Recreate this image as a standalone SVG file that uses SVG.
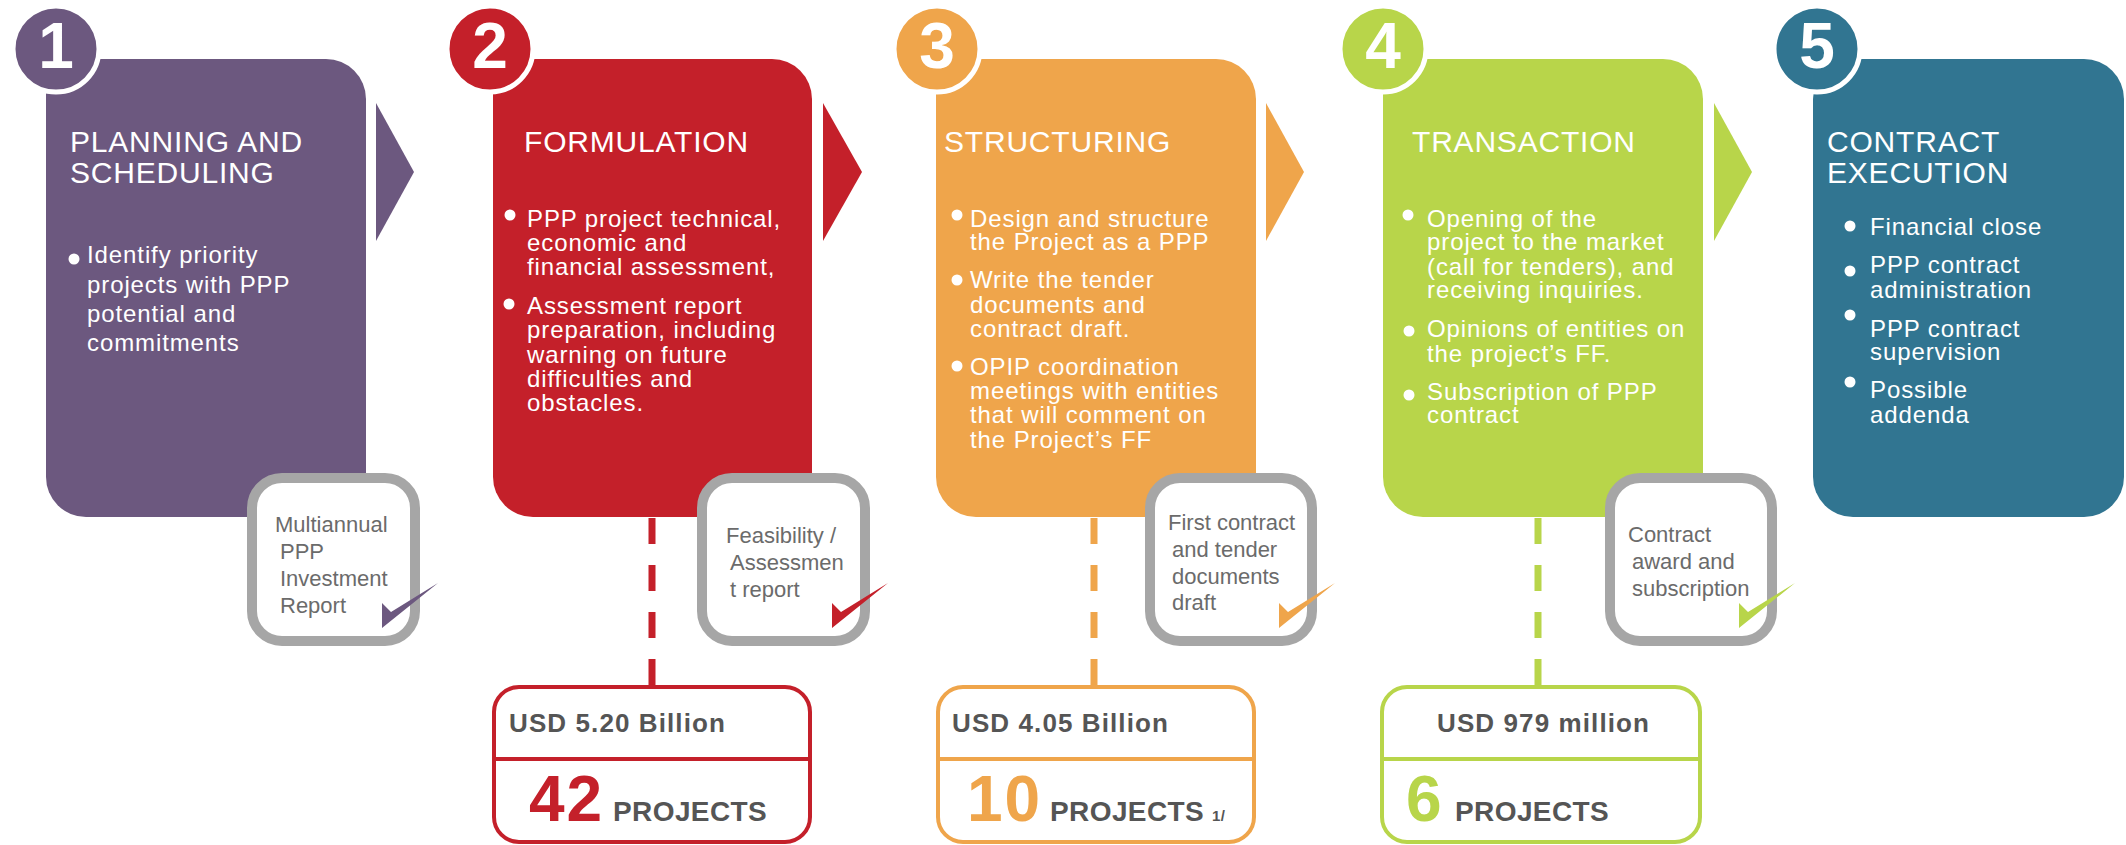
<svg xmlns="http://www.w3.org/2000/svg" width="2126" height="845" viewBox="0 0 2126 845">
<style>
.t{font-family:"Liberation Sans",Arial,sans-serif;fill:#fff}
.title{font-size:30px;letter-spacing:0.8px}
.bul{font-size:24px;letter-spacing:0.9px}
.num{font-family:"Liberation Sans",Arial,sans-serif;font-weight:bold;font-size:64px;fill:#fff;text-anchor:middle}
.circ{stroke:#fff;stroke-width:5}
.dot{fill:#fff}
.gbox{fill:#fff;stroke:#a6a6a6;stroke-width:10}
.gt{font-family:"Liberation Sans",Arial,sans-serif;font-size:22px;fill:#6b6b6b}
.ubox{fill:#fff;stroke-width:4}
.usd{font-family:"Liberation Sans",Arial,sans-serif;font-weight:bold;font-size:26px;letter-spacing:1.1px;fill:#555}
.big{font-family:"Liberation Sans",Arial,sans-serif;font-weight:bold;font-size:64px;letter-spacing:2px}
.proj{font-family:"Liberation Sans",Arial,sans-serif;font-weight:bold;font-size:28px;letter-spacing:0.4px;fill:#555}
.dash{stroke-width:7;stroke-dasharray:26 21;fill:none}
</style>

<g id="connectors">
  <polygon points="376,103 414,172 376,241" fill="#6c587f"/>
  <polygon points="823,103 862,172 823,241" fill="#c4202a"/>
  <polygon points="1266,103 1304,172 1266,241" fill="#efa54b"/>
  <polygon points="1714,103 1752,172 1714,241" fill="#b8d54a"/>
  <line x1="652" y1="518" x2="652" y2="685" class="dash" stroke="#c4202a"/>
  <line x1="1094" y1="518" x2="1094" y2="685" class="dash" stroke="#efa54b"/>
  <line x1="1538" y1="518" x2="1538" y2="685" class="dash" stroke="#b8d54a"/>
</g>

<g id="stage1">
  <path d="M46,59 H326 A40,40 0 0 1 366,99 V517 H86 A40,40 0 0 1 46,477 Z" fill="#6c587f"/>
  <circle cx="56" cy="49" r="43" fill="#6c587f" class="circ"/>
  <text x="56" y="68" class="num">1</text>
  <text class="t title" x="70" y="152">PLANNING AND</text>
  <text class="t title" x="70" y="183">SCHEDULING</text>
  <circle cx="74" cy="259" r="5.5" class="dot"/>
  <text class="t bul" x="87" y="263">Identify priority</text>
  <text class="t bul" x="87" y="293">projects with PPP</text>
  <text class="t bul" x="87" y="322">potential and</text>
  <text class="t bul" x="87" y="351">commitments</text>
</g>

<g id="stage2">
  <path d="M493,59 H772 A40,40 0 0 1 812,99 V517 H533 A40,40 0 0 1 493,477 Z" fill="#c4202a"/>
  <circle cx="490" cy="49" r="43" fill="#c4202a" class="circ"/>
  <text x="490" y="68" class="num">2</text>
  <text class="t title" x="524" y="152">FORMULATION</text>
  <circle cx="510" cy="215" r="5.5" class="dot"/>
  <text class="t bul" x="527" y="227">PPP project technical,</text>
  <text class="t bul" x="527" y="251">economic and</text>
  <text class="t bul" x="527" y="275">financial  assessment,</text>
  <circle cx="509" cy="304" r="5.5" class="dot"/>
  <text class="t bul" x="527" y="314">Assessment report</text>
  <text class="t bul" x="527" y="338">preparation, including</text>
  <text class="t bul" x="527" y="363">warning on future</text>
  <text class="t bul" x="527" y="387">difficulties and</text>
  <text class="t bul" x="527" y="411">obstacles.</text>
</g>

<g id="stage3">
  <path d="M936,59 H1216 A40,40 0 0 1 1256,99 V517 H976 A40,40 0 0 1 936,477 Z" fill="#efa54b"/>
  <circle cx="937" cy="49" r="43" fill="#efa54b" class="circ"/>
  <text x="937" y="68" class="num">3</text>
  <text class="t title" x="944" y="152">STRUCTURING</text>
  <circle cx="957" cy="215" r="5.5" class="dot"/>
  <text class="t bul" x="970" y="227">Design and structure</text>
  <text class="t bul" x="970" y="250">the Project as a PPP</text>
  <circle cx="957" cy="280" r="5.5" class="dot"/>
  <text class="t bul" x="970" y="288">Write the tender</text>
  <text class="t bul" x="970" y="313">documents and</text>
  <text class="t bul" x="970" y="337">contract draft.</text>
  <circle cx="957" cy="366" r="5.5" class="dot"/>
  <text class="t bul" x="970" y="375">OPIP coordination</text>
  <text class="t bul" x="970" y="399">meetings with entities</text>
  <text class="t bul" x="970" y="423">that will  comment on</text>
  <text class="t bul" x="970" y="448">the Project’s FF</text>
</g>

<g id="stage4">
  <path d="M1383,59 H1663 A40,40 0 0 1 1703,99 V517 H1423 A40,40 0 0 1 1383,477 Z" fill="#b8d54a"/>
  <circle cx="1383" cy="49" r="43" fill="#b8d54a" class="circ"/>
  <text x="1383" y="68" class="num">4</text>
  <text class="t title" x="1412" y="152">TRANSACTION</text>
  <circle cx="1408" cy="215" r="5.5" class="dot"/>
  <text class="t bul" x="1427" y="227">Opening of the</text>
  <text class="t bul" x="1427" y="250">project to the market</text>
  <text class="t bul" x="1427" y="275">(call for tenders), and</text>
  <text class="t bul" x="1427" y="298">receiving inquiries.</text>
  <circle cx="1409" cy="331" r="5.5" class="dot"/>
  <text class="t bul" x="1427" y="337">Opinions of entities on</text>
  <text class="t bul" x="1427" y="362">the project’s FF.</text>
  <circle cx="1409" cy="395" r="5.5" class="dot"/>
  <text class="t bul" x="1427" y="400">Subscription of PPP</text>
  <text class="t bul" x="1427" y="423">contract</text>
</g>

<g id="stage5">
  <rect x="1813" y="59" width="311" height="458" rx="40" fill="#317591"/>
  <circle cx="1817" cy="49" r="43" fill="#317591" class="circ"/>
  <text x="1817" y="68" class="num">5</text>
  <text class="t title" x="1827" y="152">CONTRACT</text>
  <text class="t title" x="1827" y="183">EXECUTION</text>
  <circle cx="1850" cy="226" r="5.5" class="dot"/>
  <text class="t bul" x="1870" y="235">Financial close</text>
  <circle cx="1850" cy="271" r="5.5" class="dot"/>
  <text class="t bul" x="1870" y="273">PPP contract</text>
  <text class="t bul" x="1870" y="298">administration</text>
  <circle cx="1850" cy="315" r="5.5" class="dot"/>
  <text class="t bul" x="1870" y="337">PPP contract</text>
  <text class="t bul" x="1870" y="360">supervision</text>
  <circle cx="1850" cy="382" r="5.5" class="dot"/>
  <text class="t bul" x="1870" y="398">Possible</text>
  <text class="t bul" x="1870" y="423">addenda</text>
</g>

<g id="deliverable1">
  <rect x="252" y="478" width="163" height="163" rx="30" class="gbox"/>
  <text class="gt" x="275" y="532">Multiannual</text>
  <text class="gt" x="280" y="559">PPP</text>
  <text class="gt" x="280" y="586">Investment</text>
  <text class="gt" x="280" y="613">Report</text>
  <polygon points="382,603 391,612 438,583 382,628" fill="#6c587f"/>
</g>

<g id="deliverable2">
  <rect x="702" y="478" width="163" height="163" rx="30" class="gbox"/>
  <text class="gt" x="726" y="543">Feasibility /</text>
  <text class="gt" x="730" y="570">Assessmen</text>
  <text class="gt" x="730" y="597">t report</text>
  <polygon points="832,603 841,612 888,583 832,628" fill="#c4202a"/>
</g>

<g id="deliverable3">
  <rect x="1150" y="478" width="162" height="163" rx="30" class="gbox"/>
  <text class="gt" x="1168" y="530">First contract</text>
  <text class="gt" x="1172" y="557">and tender</text>
  <text class="gt" x="1172" y="584">documents</text>
  <text class="gt" x="1172" y="610">draft</text>
  <polygon points="1279,603 1288,612 1335,583 1279,628" fill="#efa54b"/>
</g>

<g id="deliverable4">
  <rect x="1610" y="478" width="162" height="163" rx="30" class="gbox"/>
  <text class="gt" x="1628" y="542">Contract</text>
  <text class="gt" x="1632" y="569">award and</text>
  <text class="gt" x="1632" y="596">subscription</text>
  <polygon points="1739,603 1748,612 1795,583 1739,628" fill="#b8d54a"/>
</g>

<g id="summary2">
  <rect x="494" y="687" width="316" height="155" rx="25" class="ubox" stroke="#c4202a"/>
  <line x1="494" y1="759" x2="810" y2="759" stroke="#c4202a" stroke-width="4"/>
  <text class="usd" x="509" y="732">USD 5.20 Billion</text>
  <text class="big" x="529" y="821" fill="#c4202a">42</text>
  <text class="proj" x="613" y="821">PROJECTS</text>
</g>

<g id="summary3">
  <rect x="938" y="687" width="316" height="155" rx="25" class="ubox" stroke="#efa54b"/>
  <line x1="938" y1="759" x2="1254" y2="759" stroke="#efa54b" stroke-width="4"/>
  <text class="usd" x="952" y="732">USD 4.05 Billion</text>
  <text class="big" x="967" y="821" fill="#efa54b">10</text>
  <text class="proj" x="1050" y="821">PROJECTS</text>
  <text class="proj" x="1212" y="821" style="font-size:15px">1/</text>
</g>

<g id="summary4">
  <rect x="1382" y="687" width="318" height="155" rx="25" class="ubox" stroke="#b8d54a"/>
  <line x1="1382" y1="759" x2="1700" y2="759" stroke="#b8d54a" stroke-width="4"/>
  <text class="usd" x="1437" y="732">USD 979 million</text>
  <text class="big" x="1406" y="821" fill="#b8d54a">6</text>
  <text class="proj" x="1455" y="821">PROJECTS</text>
</g>
</svg>
